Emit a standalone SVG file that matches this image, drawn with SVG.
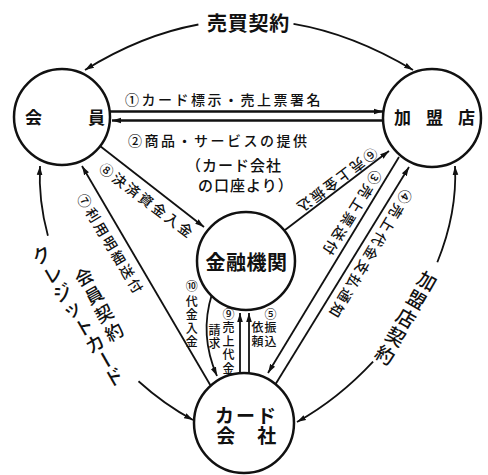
<svg xmlns="http://www.w3.org/2000/svg" width="488" height="475" viewBox="0 0 488 475">
<defs>
<marker id="ah" markerUnits="userSpaceOnUse" markerWidth="10" markerHeight="8" refX="9" refY="4" orient="auto-start-reverse"><path d="M0,1.2 L9,4 L0,6.8 Z" fill="#111"/></marker>
</defs>
<style>
text{font-family:"Noto Sans CJK JP","Noto Sans CJK SC",sans-serif;fill:#111}
.node{fill:#fff;stroke:#111;stroke-width:2.5}
.c{fill:none;stroke:#111;stroke-width:1.8}
.w{stroke-width:2.3}
.e{marker-end:url(#ah)}
.s{marker-start:url(#ah)}
.nt{font-size:17px;font-weight:700}
.lb{font-size:14px;letter-spacing:2.5px;font-weight:500}
.vt{font-size:12px;font-weight:500}
.big{font-size:19px;font-weight:500}
.ct{font-size:18px;font-weight:500}
</style>
<rect width="488" height="475" fill="#fff"/>
<g id="connectors">
  <path class="c s" d="M85,70 Q141.35,35 198.4,24.5"/>
  <path class="c e" d="M293.5,23.9 Q352.88,34 413,70"/>
  <path class="c w e" d="M108,111.5 L383,111.5"/>
  <path class="c w e" d="M386,120.5 L112,120.5"/>
  <path class="c e" d="M100,146 L204,227"/>
  <path class="c e" d="M212,388 L82,166"/>
  <path class="c e" d="M285,230 L389,151"/>
  <path class="c e" d="M399,157 L268,373"/>
  <path class="c e" d="M275,385 L409,167"/>
  <path class="c e" d="M240,378 L240,313"/>
  <path class="c e" d="M249,378 L249,313"/>
  <path class="c e" d="M212,294 Q199,335 217,376"/>
  <path class="c s" d="M40,166 C38.8,189.32 41.63,212.62 47.91,235.83"/>
  <path class="c e" d="M138.5,381.27 C155.17,396.35 173.47,409.5 193,420"/>
  <path class="c s" d="M455,166 C456.65,198.36 450.13,230.68 437.32,262.23"/>
  <path class="c e" d="M373.09,361.59 C350.73,385.58 324.9,406.4 297,422"/>
</g>
<g id="member">
  <circle class="node" cx="62" cy="117" r="48"/>
  <text class="nt" x="33.5" y="124" text-anchor="middle">会</text>
  <text class="nt" x="96.5" y="124" text-anchor="middle">員</text>
</g>
<g id="merchant">
  <circle class="node" cx="432" cy="118" r="49"/>
  <text class="nt" x="402.5" y="124" text-anchor="middle">加</text>
  <text class="nt" x="434.5" y="124" text-anchor="middle">盟</text>
  <text class="nt" x="466.5" y="124" text-anchor="middle">店</text>
</g>
<g id="bank">
  <circle class="node" cx="246" cy="261" r="49"/>
  <text x="246.5" y="270" text-anchor="middle" style="font-size:20px;font-weight:700;letter-spacing:0.5px">金融機関</text>
</g>
<g id="cardco">
  <circle class="node" cx="244" cy="423" r="50"/>
  <text x="246.5" y="423" text-anchor="middle" style="font-size:19px;font-weight:700;letter-spacing:2px">カード</text>
  <text x="225.8" y="443" text-anchor="middle" style="font-size:19px;font-weight:700">会</text>
  <text x="266.7" y="443" text-anchor="middle" style="font-size:19px;font-weight:700">社</text>
</g>
<g id="labels">
  <text x="207" y="31" style="font-size:20px;font-weight:700;letter-spacing:0.75px">売買契約</text>
  <text class="lb" x="125" y="104.5">①カード標示・売上票署名</text>
  <text class="lb" x="128" y="145.5">②商品・サービスの提供</text>
  <text x="186" y="171" style="font-size:15px;font-weight:500;letter-spacing:1px">（カード会社</text>
  <text x="198" y="190.7" style="font-size:15px;font-weight:500;letter-spacing:1px">の口座より）</text>
  <text class="lb" text-anchor="middle" transform="translate(146,200) rotate(37)" x="1.25" y="5.3">⑧決済資金入金</text>
  <text class="lb" text-anchor="middle" transform="translate(110,243.3) rotate(59)" x="1.25" y="5.3">⑦利用明細送付</text>
  <text class="lb" text-anchor="middle" transform="translate(337.5,180) rotate(143)" x="1.25" y="5.3">⑥売上金振込</text>
  <text class="lb" text-anchor="middle" transform="translate(352.5,212.5) rotate(122)" x="1.25" y="5.3">③売上票送付</text>
  <text class="lb" text-anchor="middle" transform="translate(370.8,253.3) rotate(121)" x="1.25" y="5.3">④売上代金支払通知</text>
  <text class="vt" text-anchor="middle"><tspan x="191.7" y="291.3">⑩</tspan><tspan x="191.7" y="306">代</tspan><tspan x="191.7" y="319.3">金</tspan><tspan x="191.7" y="332.6">入</tspan><tspan x="191.7" y="346">金</tspan></text>
  <text class="vt" text-anchor="middle"><tspan x="228.5" y="319.3">⑨</tspan><tspan x="228.5" y="332">売</tspan><tspan x="228.5" y="346">上</tspan><tspan x="228.5" y="359.3">代</tspan><tspan x="228.5" y="372.6">金</tspan></text>
  <text class="vt" text-anchor="middle"><tspan x="214.5" y="335.3">請</tspan><tspan x="214.5" y="348.3">求</tspan></text>
  <text class="vt" text-anchor="middle"><tspan x="270.5" y="319.3">⑤</tspan><tspan x="270.5" y="332.3">振</tspan><tspan x="270.5" y="346">込</tspan></text>
  <text class="vt" text-anchor="middle"><tspan x="257.5" y="332.3">依</tspan><tspan x="257.5" y="346">頼</tspan></text>
  <text class="big" text-anchor="middle" transform="translate(41.7,255) rotate(-30)" y="7.2">ク</text>
  <text class="big" text-anchor="middle" transform="translate(53,274) rotate(-30)" y="7.2">レ</text>
  <text class="big" text-anchor="middle" transform="translate(62.5,292.5) rotate(-30)" y="7.2">ジ</text>
  <text class="big" text-anchor="middle" transform="translate(72,309) rotate(-30)" y="7.2">ッ</text>
  <text class="big" text-anchor="middle" transform="translate(84,327) rotate(-30)" y="7.2">ト</text>
  <text class="big" text-anchor="middle" transform="translate(95,343.5) rotate(-30)" y="7.2">カ</text>
  <text class="big" text-anchor="middle" transform="translate(105.5,360) rotate(60)" y="7.2">ー</text>
  <text class="big" text-anchor="middle" transform="translate(114,377) rotate(-30)" y="7.2">ド</text>
  <text class="ct" text-anchor="middle" transform="translate(84,277) rotate(-29)" y="6.8">会</text>
  <text class="ct" text-anchor="middle" transform="translate(94,295.3) rotate(-29)" y="6.8">員</text>
  <text class="ct" text-anchor="middle" transform="translate(104,313.6) rotate(-29)" y="6.8">契</text>
  <text class="ct" text-anchor="middle" transform="translate(114,332) rotate(-29)" y="6.8">約</text>
  <text class="big" text-anchor="middle" transform="translate(427,281) rotate(30)" y="7.2">加</text>
  <text class="big" text-anchor="middle" transform="translate(416.5,299.5) rotate(30)" y="7.2">盟</text>
  <text class="big" text-anchor="middle" transform="translate(406,318) rotate(30)" y="7.2">店</text>
  <text class="big" text-anchor="middle" transform="translate(395.5,336.5) rotate(30)" y="7.2">契</text>
  <text class="big" text-anchor="middle" transform="translate(385,355) rotate(30)" y="7.2">約</text>
</g>
</svg>
